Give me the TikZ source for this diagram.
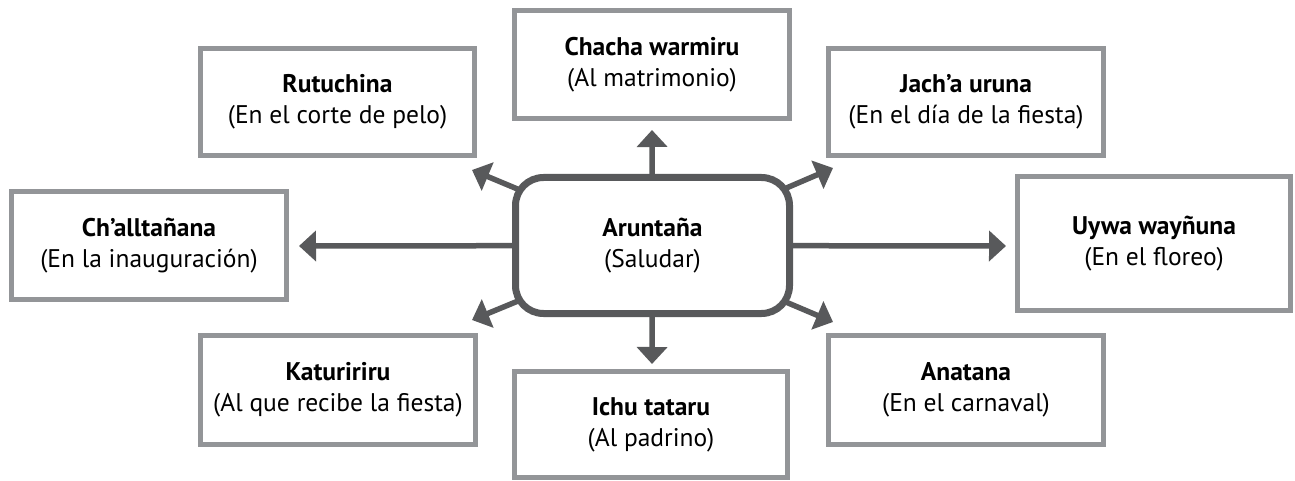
\documentclass[tikz,border=0pt]{standalone}
\usepackage{fontspec}
\setmainfont{PT Sans}
\usetikzlibrary{arrows.meta,backgrounds}
\definecolor{boxgray}{HTML}{939598}
\definecolor{arrgray}{HTML}{58595B}
\begin{document}
\begin{tikzpicture}[x=1pt,y=-1pt,
  lbl/.style={align=center,font=\fontsize{25.5}{31}\selectfont,text=black},
  outerbox/.style={lbl,draw=boxgray,line width=5pt,fill=white,minimum width=274pt,minimum height=107pt,inner sep=0pt},
  hubbox/.style={lbl,draw=arrgray,line width=7pt,fill=white,rounded corners=28pt,minimum width=274pt,minimum height=136pt,inner sep=0pt},
  arr/.style={draw=arrgray,line width=5.5pt,-{Triangle[length=17pt,width=30pt]}}]
\useasboundingbox (0,0) rectangle (1295,481);
\node[hubbox] (c) at (652.5,245.5) {\textbf{Aruntaña}\\(Saludar)};
\node[outerbox] (ru) at (337.5,102) {\textbf{Rutuchina}\\(En el corte de pelo)};
\node[outerbox,minimum width=275pt,minimum height=108pt] (ch) at (652,64.5) {\textbf{Chacha warmiru}\\(Al matrimonio)};
\node[outerbox,minimum width=275pt] (ja) at (966,102) {\textbf{Jach’a uruna}\\(En el día de la fiesta)};
\node[outerbox,minimum width=275pt,minimum height=108pt] (cl) at (149,245.5) {\textbf{Ch’alltañana}\\(En la inauguración)};
\node[outerbox,minimum width=273pt,minimum height=134pt] (uy) at (1154,243.5) {\textbf{Uywa wayñuna}\\(En el floreo)};
\node[outerbox,minimum width=275pt,minimum height=109pt] (ka) at (338,390) {\textbf{Katuririru}\\(Al que recibe la fiesta)};
\node[outerbox,minimum width=273pt,minimum height=106pt] (ic) at (651,424.5) {\textbf{Ichu tataru}\\(Al padrino)};
\node[outerbox,minimum width=275pt,minimum height=109pt] (an) at (966,390) {\textbf{Anatana}\\(En el carnaval)};
\coordinate (tl) at (472,170);
\coordinate (tr) at (833,168);
\coordinate (bl) at (472,320);
\coordinate (br) at (833,322);
\coordinate (tu) at (652,130);
\coordinate (td) at (652,364);
\coordinate (tlft) at (299,246);
\coordinate (trgt) at (1006,246);
\begin{scope}[on background layer]
\draw[arr] (c.center) -- (tl);
\draw[arr] (c.center) -- (tr);
\draw[arr] (c.center) -- (bl);
\draw[arr] (c.center) -- (br);
\draw[arr] (c.center) -- (tu);
\draw[arr] (c.center) -- (td);
\draw[arr] (c.center) -- (tlft);
\draw[arr] (c.center) -- (trgt);
\end{scope}
\end{tikzpicture}
\end{document}
